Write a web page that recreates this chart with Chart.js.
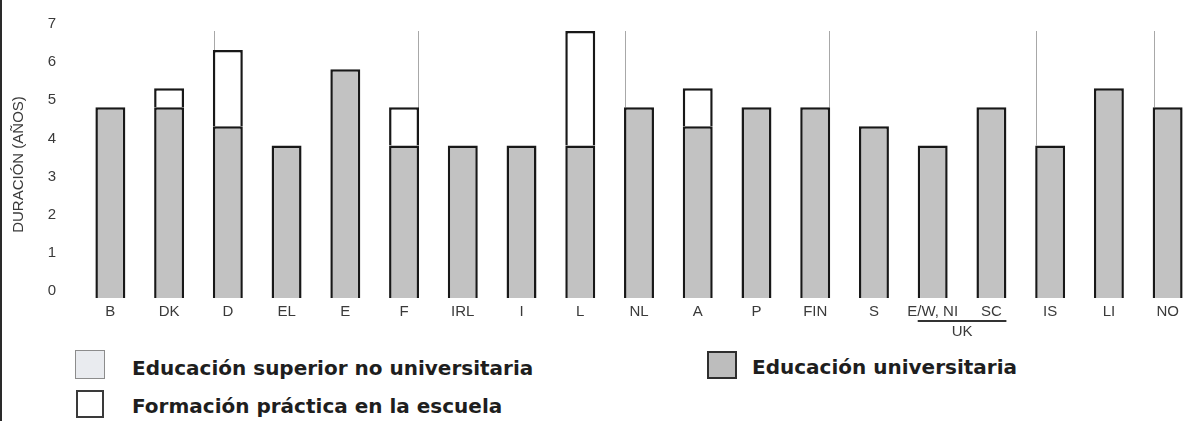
<!DOCTYPE html>
<html lang="es">
<head>
<meta charset="utf-8">
<title>Duración de la formación</title>
<script src="https://cdn.jsdelivr.net/npm/chart.js@4/dist/chart.umd.min.js"></script>
<style>
  html, body { margin: 0; padding: 0; background: #fff; }
  body { width: 1184px; height: 421px; overflow: hidden; position: relative; }
  #edge { position: absolute; left: 0; top: 0; width: 2px; height: 421px; background: #2a2a2a; }
  #wrap { position: absolute; left: 0; top: 0; width: 1197px; height: 342px; }
  .sw { position: absolute; box-sizing: border-box; }
  .lt { position: absolute; font-family: "DejaVu Sans", sans-serif; font-weight: 700;
        font-size: 20px; line-height: 24px; color: #1e1e1e; white-space: nowrap; }
</style>
</head>
<body>
<div id="edge"></div>
<div id="wrap"><canvas id="durChart" width="1197" height="342"></canvas></div>
<div id="legend"></div>

<script>
/* ===============================
   DATA
================================ */
const countries = ["B", "DK", "D", "EL", "E", "F", "IRL", "I", "L", "NL",
                   "A", "P", "FIN", "S", "E/W, NI", "SC", "IS", "LI", "NO"];

// años de educación universitaria (barra gris)
const universitaria = [5, 5, 4.5, 4, 6, 4, 4, 4, 4, 5,
                       4.5, 5, 5, 4.5, 4, 5, 4, 5.5, 5];

// años de formación práctica en la escuela (barra blanca encima)
const practica = [null, 0.5, 2, null, null, 1, null, null, 3, null,
                  1, null, null, null, null, null, null, null, null];

const yTicks = [0, 1, 2, 3, 4, 5, 6, 7];

const legendItems = [
  { text: "Educación superior no universitaria", fill: "#e9ebef", border: "1px solid #8c8c8c",
    box: [75, 350, 30, 29], pos: [132, 356] },
  { text: "Formación práctica en la escuela", fill: "#ffffff", border: "2px solid #3a3a3a",
    box: [76, 390, 28, 28], pos: [132, 394] },
  { text: "Educación universitaria", fill: "#bdbdbd", border: "2px solid #2e2e2e",
    box: [707, 351, 30, 28], pos: [752, 355] }
];

// separadores verticales finos: [índice de barra, lado]
const separators = [[2, -1], [5, 1], [9, -1], [12, 1], [16, -1], [18, -1]];

/* ===============================
   PLUGINS
================================ */
const separatorPlugin = {
  id: "separators",
  beforeDatasetsDraw(chart) {
    const { ctx } = chart;
    const bars = chart.getDatasetMeta(0).data;
    const yTop = chart.scales.y.getPixelForValue(7);
    ctx.save();
    ctx.strokeStyle = "#a8a8a8";
    ctx.lineWidth = 1;
    separators.forEach(([i, side]) => {
      const b = bars[i];
      const x = Math.round(b.x + side * (b.width / 2 - 1)) + 0.5;
      ctx.beginPath();
      ctx.moveTo(x, yTop);
      ctx.lineTo(x, b.y);
      ctx.stroke();
    });
    ctx.restore();
  }
};

const ukPlugin = {
  id: "ukBracket",
  afterDraw(chart) {
    const { ctx } = chart;
    const bars = chart.getDatasetMeta(0).data;
    const a = bars[14], b = bars[15];
    const x0 = a.x - a.width / 2, x1 = b.x + b.width / 2;
    const y = chart.chartArea.bottom + 23;
    ctx.save();
    ctx.strokeStyle = "#333";
    ctx.lineWidth = 2;
    ctx.beginPath();
    ctx.moveTo(x0, y);
    ctx.lineTo(x1, y);
    ctx.stroke();
    ctx.fillStyle = "#3a3a3a";
    ctx.font = "15px 'Liberation Sans', Arial, sans-serif";
    ctx.textAlign = "center";
    ctx.textBaseline = "middle";
    ctx.fillText("UK", (x0 + x1) / 2, y + 11);
    ctx.restore();
  }
};

/* ===============================
   CHART
================================ */
const tickFont = { family: "'Liberation Sans', Arial, sans-serif", size: 15 };

new Chart(document.getElementById("durChart"), {
  type: "bar",
  data: {
    labels: countries,
    datasets: [
      {
        label: "Educación universitaria",
        data: universitaria,
        backgroundColor: "#c2c2c2",
        borderColor: "#181818",
        borderWidth: 2.5,
        barPercentage: 0.51,
        categoryPercentage: 1
      },
      {
        label: "Formación práctica en la escuela",
        data: practica,
        backgroundColor: "#ffffff",
        borderColor: "#181818",
        borderWidth: 2.5,
        barPercentage: 0.51,
        categoryPercentage: 1
      }
    ]
  },
  options: {
    responsive: false,
    animation: false,
    layout: { padding: { top: 31, left: 0, right: 0, bottom: 0 } },
    plugins: { legend: { display: false }, tooltip: { enabled: false } },
    scales: {
      x: {
        stacked: true,
        grid: { display: false, drawTicks: false },
        border: { display: false },
        ticks: { font: tickFont, color: "#3a3a3a", padding: 5, maxRotation: 0, autoSkip: false },
        afterFit(scale) { scale.height = 44; }
      },
      y: {
        stacked: true,
        min: 0,
        max: 7,
        afterBuildTicks(scale) { scale.ticks = yTicks.map(v => ({ value: v })); },
        grid: { display: false, drawTicks: false },
        border: { display: false },
        ticks: { font: tickFont, color: "#3a3a3a", padding: 25, labelOffset: -7 },
        title: {
          display: true,
          text: "DURACIÓN (AÑOS)",
          font: tickFont,
          color: "#3a3a3a",
          padding: { top: 10, bottom: 0 }
        },
        afterFit(scale) {
          scale.width = 81;
          // el padding de las etiquetas no debe empujar el área del gráfico
          scale.paddingTop = 0;
          scale.paddingBottom = 0;
        }
      }
    }
  },
  plugins: [separatorPlugin, ukPlugin]
});

/* ===============================
   LEGEND
================================ */
const legend = document.getElementById("legend");
legendItems.forEach(item => {
  const sw = document.createElement("div");
  sw.className = "sw";
  const [l, t, w, h] = item.box;
  Object.assign(sw.style, { left: l + "px", top: t + "px", width: w + "px", height: h + "px",
                            background: item.fill, border: item.border });
  const tx = document.createElement("div");
  tx.className = "lt";
  tx.textContent = item.text;
  tx.style.left = item.pos[0] + "px";
  tx.style.top = item.pos[1] + "px";
  legend.appendChild(sw);
  legend.appendChild(tx);
});
</script>
</body>
</html>
